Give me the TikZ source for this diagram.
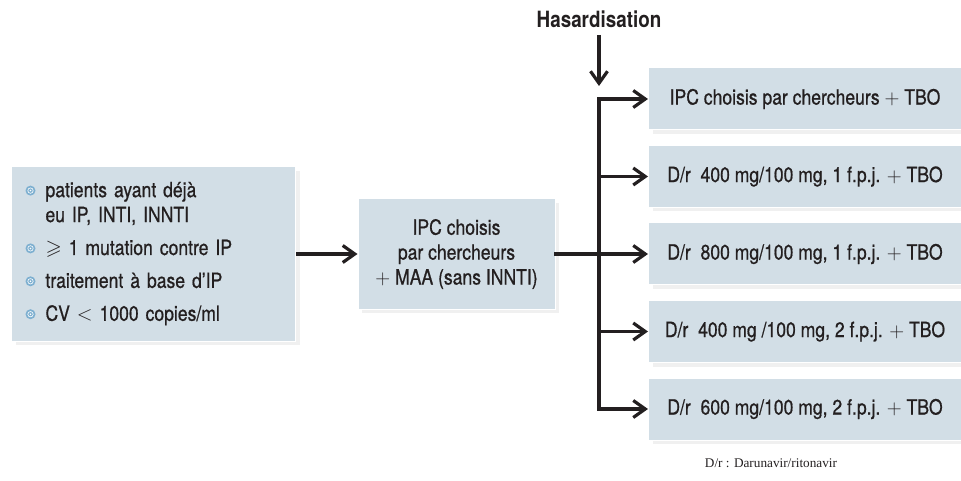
\documentclass[tikz,border=0pt]{standalone}
\usepackage{fontspec}
\usepackage{amssymb}
\setmainfont{TeX Gyre Heros}[FakeStretch=0.84, UprightFeatures={FakeBold=0.7}]
\newfontfamily\notefont{Liberation Serif}
\usetikzlibrary{arrows.meta,shadows}
\definecolor{boxblue}{RGB}{210,222,230}
\definecolor{dotblue}{RGB}{125,175,208}
\definecolor{inkdark}{RGB}{35,31,32}
\tikzset{
  panel/.style={fill=boxblue, draw=white, line width=1bp, inner sep=0pt, text=inkdark,
    drop shadow={opacity=0.12, shadow xshift=4bp, shadow yshift=-4bp}},
  armbox/.style={panel, minimum width=313bp, minimum height=62bp, anchor=west},
  flow/.style={line width=3.2bp, inkdark, -{Straight Barb[length=12bp,width=17bp,line width=3.2bp]}},
  trunk/.style={line width=3.2bp, inkdark, line cap=rect},
}
\newcommand{\critdot}{\tikz[baseline=-0.6ex]{\fill[dotblue] (0,0) circle (5bp);
  \draw[white, line width=0.6bp] (0,0) circle (2.7bp); \fill[white] (0,0) circle (0.9bp);}}
\begin{document}
\begin{tikzpicture}[x=1bp,y=-1bp,font=\fontsize{21}{25}\selectfont]
        \useasboundingbox (0,0) rectangle (961,481);
        % inclusion criteria
        \node[panel, anchor=west, minimum width=284bp, minimum height=174bp,
              inner xsep=14bp, text width=256bp, align=left] (crit) at (11,254) {%
          \begin{tabular}{@{}c@{\hspace{10bp}}l@{}}
          \critdot & patients ayant déjà\\
                   & eu IP, INTI, INNTI\\[8bp]
          \critdot & $\geqslant$ 1 mutation contre IP\\[8bp]
          \critdot & traitement à base d’IP\\[8bp]
          \critdot & CV $<$ 1000 copies/ml
          \end{tabular}};
        \node[panel, minimum width=197bp, minimum height=110bp, align=center] (mid) at (456.5,254)
          {IPC choisis\\par chercheurs\\$+$ MAA (sans INNTI)};
        % study arms
        \node[armbox] (arm1) at (648,99) {IPC choisis par chercheurs $+$ TBO};
        \node[armbox] (arm2) at (648,176.5) {D/r\ \ 400 mg/100 mg, 1 f.p.j. $+$ TBO};
        \node[armbox] (arm3) at (648,254) {D/r\ \ 800 mg/100 mg, 1 f.p.j. $+$ TBO};
        \node[armbox] (arm4) at (648,331.5) {D/r\ \ 400 mg /100 mg, 2 f.p.j. $+$ TBO};
        \node[armbox] (arm5) at (648,409) {D/r\ \ 600 mg/100 mg, 2 f.p.j. $+$ TBO};
        \node[text=inkdark, font=\bfseries\fontsize{22.5}{26}\selectfont] (hasard) at (599,19) {Hasardisation};
        \node[text=inkdark, font=\notefont\fontsize{13.3}{16}\selectfont] (note) at (771,463) {D/r : Darunavir/ritonavir};
        \coordinate (split) at (599,254);
        \coordinate (hasardtip) at (599,86);
        \draw[flow] (crit.east) -- (mid.west);
        \draw[trunk] (mid.east) -- (split);
        \draw[flow, shorten <=4bp] (hasard.south) -- (hasardtip);
        \draw[trunk] (arm1.west -| split) -- (arm5.west -| split);
        \foreach \k in {1,...,5}
          \draw[flow] (arm\k.west -| split) -- (arm\k.west);
\end{tikzpicture}
\end{document}
